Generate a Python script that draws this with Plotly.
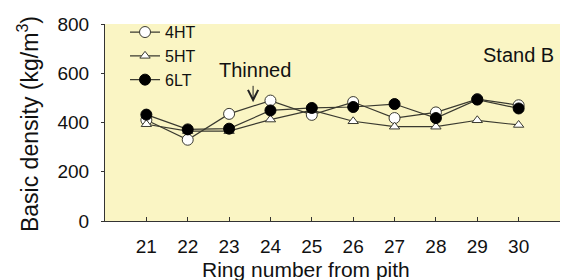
import plotly.graph_objects as go

rings = [21, 22, 23, 24, 25, 26, 27, 28, 29, 30]
ht4 = [410, 330, 435, 489, 431, 483, 418, 441, 495, 470]
ht5 = [393, 365, 365, 412, 450, 405, 383, 383, 409, 390]
lt6 = [432, 372, 375, 449, 459, 463, 475, 418, 493, 457]
y_ticks = [0, 200, 400, 600, 800]

FONT = "Liberation Sans, Arial, sans-serif"
LC = "#3a3a30"

fig = go.Figure()
fig.add_trace(go.Scatter(x=rings, y=ht4, name="4HT", mode="lines+markers",
                         line=dict(color=LC, width=1.2),
                         marker=dict(symbol="circle", size=11, color="white",
                                     line=dict(color=LC, width=1))))
fig.add_trace(go.Scatter(x=rings, y=ht5, name="5HT", mode="lines+markers",
                         line=dict(color=LC, width=1.2),
                         marker=dict(symbol="triangle-up", size=9, color="white",
                                     line=dict(color=LC, width=1))))
fig.add_trace(go.Scatter(x=rings, y=lt6, name="6LT", mode="lines+markers",
                         line=dict(color=LC, width=1.2),
                         marker=dict(symbol="circle", size=11, color="black",
                                     line=dict(color="black", width=1))))

fig.add_annotation(x=23.58, y=482, ax=23.58, ay=555, xref="x", yref="y",
                   axref="x", ayref="y", text="", showarrow=True,
                   arrowhead=5, arrowsize=2, arrowwidth=1, arrowcolor="#222")
fig.add_annotation(x=23.63, y=615, xref="x", yref="y", text="Thinned",
                   showarrow=False, font=dict(family=FONT, size=20, color="#111"))
fig.add_annotation(x=0.992, y=0.845, xref="paper", yref="paper", text="Stand B",
                   showarrow=False, xanchor="right", yanchor="middle",
                   font=dict(family=FONT, size=20, color="#111"))
# axis titles
fig.add_annotation(x=0.442, y=-0.245, xref="paper", yref="paper",
                   text="Ring number from pith", showarrow=False,
                   xanchor="center", yanchor="middle",
                   font=dict(family=FONT, size=21, color="#111"))
fig.add_annotation(x=-0.168, y=0.49, xref="paper", yref="paper",
                   text="Basic density (kg/m<sup>3</sup>)", showarrow=False,
                   textangle=-90, xanchor="center", yanchor="middle",
                   font=dict(family=FONT, size=23, color="#111"))

fig.update_layout(
    width=561, height=272,
    margin=dict(l=97, r=9, t=7, b=59),
    paper_bgcolor="white", plot_bgcolor="#FAF5C4",
    font=dict(family=FONT, size=19, color="#111"),
    showlegend=True,
    legend=dict(x=0.044, y=1.045, xanchor="left", yanchor="top",
                bgcolor="rgba(0,0,0,0)", font=dict(family=FONT, size=16),
                tracegroupgap=0),
    xaxis=dict(range=[20, 31], tickvals=rings, ticktext=[str(r) for r in rings],
               showgrid=False, zeroline=False, showline=True, linecolor="#333",
               linewidth=1, ticks="inside", ticklen=4, tickcolor="#333",
               ticklabelstandoff=8, tickfont=dict(size=19),
               ticklabeloverflow="allow"),
    yaxis=dict(range=[0, 800], tickvals=y_ticks, showgrid=False, zeroline=False,
               showline=True, linecolor="#333", linewidth=1, ticks="outside",
               ticklen=3, tickcolor="#333", ticklabelstandoff=8,
               tickfont=dict(size=19), ticklabeloverflow="allow"),
)

fig.write_html("out.html")
